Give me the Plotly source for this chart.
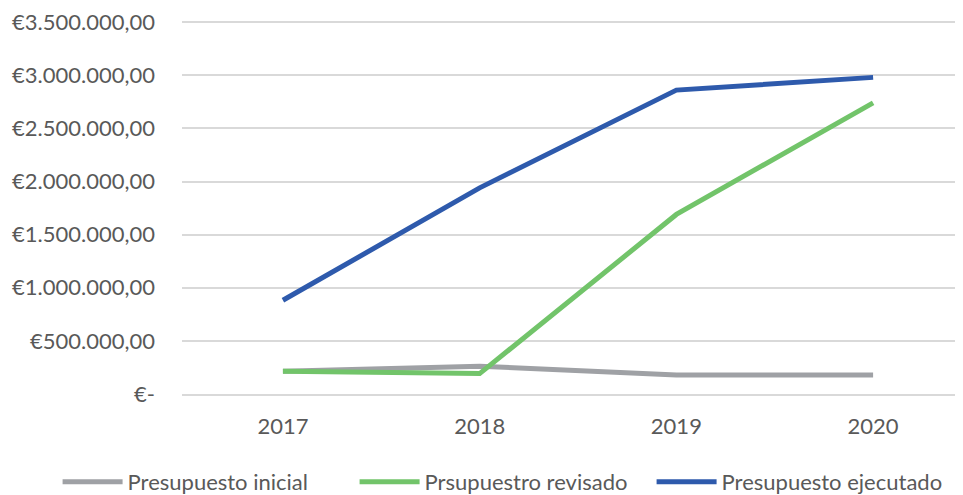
import plotly.graph_objects as go

years = ["2017", "2018", "2019", "2020"]
inicial = [215000, 262000, 180000, 180000]
revisado = [215000, 192000, 1690000, 2740000]
ejecutado = [882000, 1940000, 2860000, 2980000]

tick_vals = [0, 500000, 1000000, 1500000, 2000000, 2500000, 3000000, 3500000]
tick_text = ["€-", "€500.000,00", "€1.000.000,00", "€1.500.000,00", "€2.000.000,00",
             "€2.500.000,00", "€3.000.000,00", "€3.500.000,00"]

font_family = "Lato, 'Open Sans', sans-serif"
text_color = "#595959"

fig = go.Figure()
fig.add_trace(go.Scatter(x=years, y=inicial, mode="lines", name="Presupuesto inicial",
                         line=dict(color="#9FA1A5", width=5)))
fig.add_trace(go.Scatter(x=years, y=revisado, mode="lines", name="Prsupuestro revisado",
                         line=dict(color="#72C46A", width=5)))
fig.add_trace(go.Scatter(x=years, y=ejecutado, mode="lines", name="Presupuesto ejecutado",
                         line=dict(color="#2E5AAC", width=5)))

# page body has an 8px margin, so the figure is shifted by 8px; compensate
fig.update_layout(
    width=955, height=487,
    margin=dict(l=174, r=0, t=12, b=101, autoexpand=False),
    paper_bgcolor="white", plot_bgcolor="white",
    font=dict(family=font_family, size=22, color=text_color),
    showlegend=True,
    legend=dict(orientation="h", x=-0.1593, xanchor="left",
                y=-0.235, yanchor="middle", itemwidth=60, entrywidth=222,
                font=dict(size=22, color=text_color), traceorder="normal"),
    hovermode=False,
)
fig.update_xaxes(type="category", range=[-0.513, 3.457], showgrid=False,
                 showline=True, linecolor="#d9d9d9", linewidth=2,
                 ticks="", automargin=False, ticklabelstandoff=12,
                 tickfont=dict(size=22, color=text_color))
fig.update_yaxes(range=[0, 3520000], tickvals=tick_vals, ticktext=tick_text,
                 showgrid=True, gridcolor="#d9d9d9", gridwidth=2,
                 zeroline=False, showline=False, ticks="", automargin=False,
                 ticklabeloverflow="allow",
                 ticklabelstandoff=26, tickfont=dict(size=22, color=text_color))

fig.write_html("out.html")
